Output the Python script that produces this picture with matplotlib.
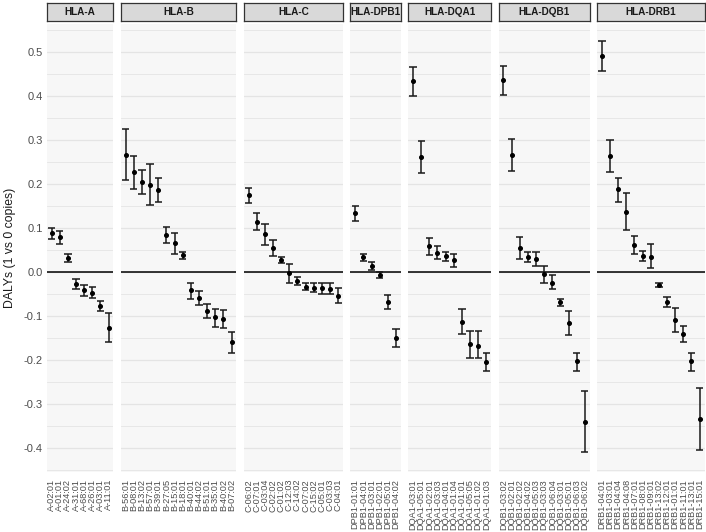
import matplotlib
matplotlib.use('Agg')
import matplotlib.pyplot as plt
import numpy as np

plt.rcParams['font.family'] = ['Liberation Sans', 'DejaVu Sans']

genes = ['HLA-A', 'HLA-B', 'HLA-C', 'HLA-DPB1', 'HLA-DQA1', 'HLA-DQB1', 'HLA-DRB1']

a_labels = ['A-02:01', 'A-01:01', 'A-24:02', 'A-31:01', 'A-68:01', 'A-26:01', 'A-03:01', 'A-11:01']
a_est = [0.088, 0.079, 0.031, -0.027, -0.042, -0.048, -0.078, -0.127]
a_lo = [0.075, 0.064, 0.023, -0.039, -0.055, -0.060, -0.089, -0.160]
a_hi = [0.101, 0.094, 0.040, -0.015, -0.030, -0.035, -0.067, -0.093]

b_labels = ['B-56:01', 'B-08:01', 'B-13:02', 'B-57:01', 'B-39:01', 'B-27:05', 'B-15:01',
            'B-18:01', 'B-40:01', 'B-44:02', 'B-51:01', 'B-35:01', 'B-40:02', 'B-07:02']
b_est = [0.265, 0.227, 0.204, 0.198, 0.187, 0.084, 0.066, 0.039, -0.042, -0.059, -0.088, -0.103, -0.106, -0.160]
b_lo = [0.210, 0.188, 0.177, 0.152, 0.160, 0.067, 0.042, 0.030, -0.061, -0.074, -0.105, -0.126, -0.127, -0.183]
b_hi = [0.324, 0.264, 0.231, 0.246, 0.214, 0.102, 0.089, 0.045, -0.024, -0.043, -0.072, -0.083, -0.086, -0.136]

c_labels = ['C-06:02', 'C-07:01', 'C-03:04', 'C-02:02', 'C-01:02', 'C-12:03',
            'C-14:02', 'C-07:02', 'C-15:02', 'C-05:01', 'C-03:03', 'C-04:01']
c_est = [0.174, 0.114, 0.086, 0.055, 0.027, -0.003, -0.021, -0.034, -0.036, -0.037, -0.038, -0.054]
c_lo = [0.156, 0.096, 0.062, 0.036, 0.020, -0.024, -0.030, -0.042, -0.046, -0.050, -0.049, -0.071]
c_hi = [0.192, 0.133, 0.109, 0.073, 0.034, 0.019, -0.011, -0.026, -0.025, -0.024, -0.026, -0.037]

dpb1_labels = ['DPB1-01:01', 'DPB1-04:01', 'DPB1-03:01', 'DPB1-02:01', 'DPB1-05:01', 'DPB1-04:02']
dpb1_est = [0.133, 0.033, 0.014, -0.007, -0.068, -0.149]
dpb1_lo = [0.116, 0.025, 0.005, -0.013, -0.085, -0.170]
dpb1_hi = [0.151, 0.041, 0.023, -0.001, -0.052, -0.129]

dqa1_labels = ['DQA1-03:01', 'DQA1-05:01', 'DQA1-02:01', 'DQA1-03:03', 'DQA1-04:01',
               'DQA1-01:04', 'DQA1-01:01', 'DQA1-05:05', 'DQA1-01:02', 'DQA1-01:03']
dqa1_est = [0.433, 0.261, 0.060, 0.044, 0.036, 0.027, -0.114, -0.164, -0.168, -0.204]
dqa1_lo = [0.400, 0.226, 0.039, 0.029, 0.024, 0.012, -0.142, -0.195, -0.196, -0.224]
dqa1_hi = [0.466, 0.298, 0.078, 0.058, 0.046, 0.041, -0.085, -0.134, -0.134, -0.183]

dqb1_labels = ['DQB1-03:02', 'DQB1-02:01', 'DQB1-02:02', 'DQB1-04:02', 'DQB1-05:03', 'DQB1-03:03',
               'DQB1-06:04', 'DQB1-03:01', 'DQB1-05:01', 'DQB1-06:03', 'DQB1-06:02']
dqb1_est = [0.436, 0.266, 0.055, 0.035, 0.029, -0.005, -0.024, -0.069, -0.115, -0.203, -0.342]
dqb1_lo = [0.403, 0.230, 0.030, 0.022, 0.014, -0.025, -0.039, -0.077, -0.143, -0.224, -0.410]
dqb1_hi = [0.468, 0.303, 0.079, 0.046, 0.045, 0.013, -0.006, -0.061, -0.089, -0.183, -0.271]

drb1_labels = ['DRB1-04:01', 'DRB1-03:01', 'DRB1-04:04', 'DRB1-04:08', 'DRB1-07:01', 'DRB1-08:01',
               'DRB1-09:01', 'DRB1-13:02', 'DRB1-12:01', 'DRB1-01:01', 'DRB1-11:01', 'DRB1-13:01', 'DRB1-15:01']
drb1_est = [0.491, 0.264, 0.188, 0.136, 0.061, 0.037, 0.035, -0.030, -0.069, -0.108, -0.141, -0.203, -0.335]
drb1_lo = [0.456, 0.228, 0.160, 0.096, 0.041, 0.025, 0.008, -0.035, -0.079, -0.136, -0.158, -0.224, -0.405]
drb1_hi = [0.525, 0.300, 0.214, 0.180, 0.081, 0.048, 0.064, -0.024, -0.057, -0.081, -0.122, -0.183, -0.264]

y_ticks = [-0.4, -0.3, -0.2, -0.1, 0.0, 0.1, 0.2, 0.3, 0.4, 0.5]
y_ticklabels = ['-0.4', '-0.3', '-0.2', '-0.1', '0.0', '0.1', '0.2', '0.3', '0.4', '0.5']
y_label = 'DALYs (1 vs 0 copies)'

panels = [
    (a_labels, a_est, a_lo, a_hi),
    (b_labels, b_est, b_lo, b_hi),
    (c_labels, c_est, c_lo, c_hi),
    (dpb1_labels, dpb1_est, dpb1_lo, dpb1_hi),
    (dqa1_labels, dqa1_est, dqa1_lo, dqa1_hi),
    (dqb1_labels, dqb1_est, dqb1_lo, dqb1_hi),
    (drb1_labels, drb1_est, drb1_lo, drb1_hi),
]

W, H = 706, 532
fig = plt.figure(figsize=(W / 100, H / 100), dpi=100)

left_px, right_px, gap_px = 46.7, 704.5, 7.3
panel_top, panel_bot = 24, 472
strip_top, strip_bot = 3, 21
total_units = sum(len(p[0]) + 0.2 for p in panels)
unit = (right_px - left_px - gap_px * (len(panels) - 1)) / total_units

ylim = (-0.4545, 0.5636)
minor = [v for v in np.arange(-0.45, 0.56, 0.05) if min(abs(v - t) for t in y_ticks) > 1e-6]

x0 = left_px
for i, (gene, (labels, est, lo, hi)) in enumerate(zip(genes, panels)):
    n = len(labels)
    w = (n + 0.2) * unit
    ax = fig.add_axes([x0 / W, 1 - panel_bot / H, w / W, (panel_bot - panel_top) / H])
    ax.set_facecolor('#F7F7F7')
    for s in ax.spines.values():
        s.set_visible(False)
    ax.set_xlim(-0.6, n - 0.4)
    ax.set_ylim(*ylim)
    ax.set_yticks(y_ticks)
    ax.set_yticks(minor, minor=True)
    ax.grid(axis='y', which='major', color='#E4E4E4', lw=0.9)
    ax.grid(axis='y', which='minor', color='#E4E4E4', lw=0.6)
    ax.set_axisbelow(True)
    ax.tick_params(which='both', length=0)
    ax.axhline(0, color='black', lw=1.1, zorder=2)
    xs = np.arange(n)
    ax.vlines(xs, lo, hi, color='#1a1a1a', lw=1.1, zorder=3)
    ax.hlines(lo, xs - 0.45, xs + 0.45, color='#1a1a1a', lw=1.1, zorder=3)
    ax.hlines(hi, xs - 0.45, xs + 0.45, color='#1a1a1a', lw=1.1, zorder=3)
    ax.plot(xs, est, 'o', ms=2.6, color='black', zorder=4)
    ax.set_xticks(xs)
    ax.set_xticklabels(labels, rotation=90, fontsize=6.6, color='#4D4D4D')
    ax.tick_params(axis='x', pad=5)
    if i == 0:
        ax.set_yticklabels(y_ticklabels, fontsize=8, color='#4D4D4D')
        ax.tick_params(axis='y', pad=3)
        ax.set_ylabel(y_label, fontsize=8.8, color='#1a1a1a', labelpad=5)
    else:
        ax.set_yticklabels([])
    # strip
    sax = fig.add_axes([x0 / W, 1 - strip_bot / H, w / W, (strip_bot - strip_top) / H])
    sax.set_facecolor('#D9D9D9')
    sax.set_xticks([])
    sax.set_yticks([])
    for s in sax.spines.values():
        s.set_color('#333333')
        s.set_linewidth(0.9)
    sax.text(0.5, 0.5, gene, ha='center', va='center', fontsize=7.2,
             fontweight='bold', color='#1a1a1a', transform=sax.transAxes)
    x0 += w + gap_px

fig.savefig('out.png', dpi=100, facecolor='white')
